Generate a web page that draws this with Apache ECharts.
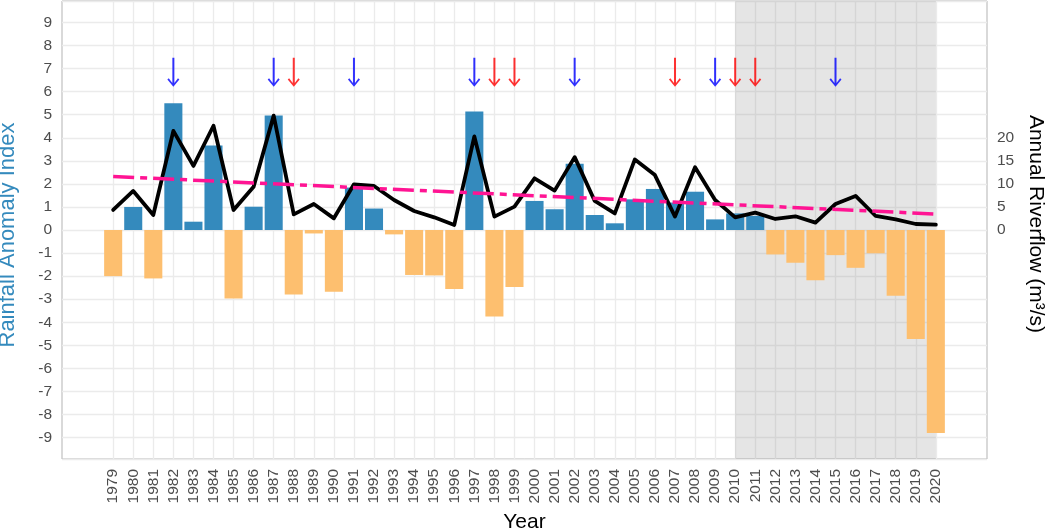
<!DOCTYPE html>
<html><head><meta charset="utf-8">
<script src="https://cdn.jsdelivr.net/npm/echarts@6/dist/echarts.min.js"></script>
<style>html,body{margin:0;padding:0;background:#fff}#c{width:1052px;height:529px}</style>
</head><body><div id="c"></div>
<script>
const years = [1979,1980,1981,1982,1983,1984,1985,1986,1987,1988,1989,1990,1991,1992,1993,1994,1995,1996,1997,1998,1999,2000,2001,2002,2003,2004,2005,2006,2007,2008,2009,2010,2011,2012,2013,2014,2015,2016,2017,2018,2019,2020];
const rainfallIndex = [-2.0,1.0,-2.1,5.5,0.36,3.66,-2.97,1.01,4.96,-2.8,-0.15,-2.68,1.84,0.93,-0.19,-1.95,-1.97,-2.56,5.14,-3.75,-2.47,1.26,0.9,2.87,0.65,0.29,1.33,1.78,1.19,1.66,0.46,0.72,0.61,-1.06,-1.42,-2.18,-1.09,-1.64,-1.01,-2.85,-4.73,-8.8];
const riverflow = [4.34,8.47,3.26,21.5,13.9,22.6,4.34,9.4,24.8,3.4,5.64,2.53,9.9,9.55,6.5,4.12,2.75,1.1,20.3,2.9,5.07,11.2,8.54,15.8,6.3,3.6,15.3,11.9,2.9,13.6,6.5,2.75,3.76,2.39,2.97,1.6,5.64,7.38,3.04,2.3,1.3,1.16];
const trendYears = [1979, 2020];
const trendFlow = [11.6, 3.47];
const blueArrowYears = [1982,1987,1991,1997,2002,2009,2015];
const redArrowYears = [1988,1998,1999,2007,2010,2011];
const shadedPeriod = [2010, 2020];
const leftTickLabels = [-9,-8,-7,-6,-5,-4,-3,-2,-1,0,1,2,3,4,5,6,7,8,9];
const rightTickLabels = [0,5,10,15,20];

const FONT = '"Liberation Sans", Arial, Helvetica, sans-serif';
const LABEL_COLOR = '#4D4D4D';
const ARROW_LEVEL = 6.84;
const ARROW_PATH = 'path://M5 0 L7 0 L7 25 L10.6 20.4 L12 21.6 L6 28.8 L0 21.6 L1.4 20.4 L5 25 Z';

function pick(list) {
  return function (v) {
    const r = Math.round(v);
    return (Math.abs(v - r) < 1e-6 && list.indexOf(r) >= 0) ? String(r) : '';
  };
}

const chart = echarts.init(document.getElementById('c'), null, {renderer: 'canvas'});
chart.setOption({
  animation: false,
  backgroundColor: '#fff',
  textStyle: {fontFamily: FONT},
  grid: {left: 62, right: 65, top: 1, bottom: 70, show: true, borderColor: '#B3B3B3', borderWidth: 1, backgroundColor: '#fff', containLabel: false, outerBoundsMode: 'none'},
  xAxis: {
    type: 'value', min: 1976.45, max: 2022.55, splitNumber: 46,
    axisLine: {show: false}, axisTick: {show: false}, splitLine: {show: false},
    axisLabel: {rotate: 90, margin: 10, fontSize: 15.5, color: LABEL_COLOR, fontFamily: FONT, formatter: pick(years), showMinLabel: true, showMaxLabel: true},
    name: 'Year', nameLocation: 'middle', nameGap: 47,
    nameTextStyle: {fontSize: 21, color: '#000', fontFamily: FONT}
  },
  yAxis: [{
    type: 'value', min: -9.93, max: 9.93, splitNumber: 20,
    axisLine: {show: false}, axisTick: {show: false},
    splitLine: {show: true, lineStyle: {color: '#EBEBEB', width: 1.3}},
    axisLabel: {margin: 10, fontSize: 15.5, color: LABEL_COLOR, fontFamily: FONT, formatter: pick(leftTickLabels)},
    name: 'Rainfall Anomaly Index', nameLocation: 'middle', nameRotate: 90, nameGap: 43,
    nameTextStyle: {fontSize: 22, color: '#348ABD', fontFamily: FONT, padding: [0, 10, 0, 0]}
  }, {
    type: 'value', min: -49.65, max: 49.65, splitNumber: 20, position: 'right',
    axisLine: {show: false}, axisTick: {show: false}, splitLine: {show: false},
    axisLabel: {margin: 10, fontSize: 15.5, color: LABEL_COLOR, fontFamily: FONT, formatter: pick(rightTickLabels)},
    name: 'Annual Riverflow (m³/s)', nameLocation: 'middle', nameRotate: -90, nameGap: 36,
    nameTextStyle: {fontSize: 21, color: '#000', fontFamily: FONT, padding: [0, 12, 0, 0]}
  }],
  series: [{
    name: 'vgrid', type: 'line', z: 0, silent: true, data: [[years[0], 0]],
    symbol: 'none', lineStyle: {opacity: 0},
    markLine: {
      z: 0, silent: true, symbol: ['none', 'none'], label: {show: false},
      lineStyle: {color: '#EBEBEB', width: 1.3, type: 'solid'},
      emphasis: {disabled: true},
      data: years.map(function (y) { return {xAxis: y}; })
    }
  }, {
    name: 'shade', type: 'line', z: 1, silent: true, data: [[shadedPeriod[0], 0]],
    symbol: 'none', lineStyle: {opacity: 0},
    markArea: {
      z: 1, silent: true, itemStyle: {color: 'rgba(127,127,127,0.2)'},
      data: [[{xAxis: shadedPeriod[0]}, {xAxis: shadedPeriod[1]}]]
    }
  }, {
    name: 'Rainfall Anomaly Index', type: 'bar', z: 2, barWidth: '90%',
    data: years.map(function (y, i) { return [y, rainfallIndex[i]]; }),
    itemStyle: {color: function (p) { return p.value[1] >= 0 ? '#348ABD' : '#FDBF6F'; }}
  }, {
    name: 'Annual Riverflow', type: 'line', z: 3, yAxisIndex: 1, symbol: 'none',
    data: years.map(function (y, i) { return [y, riverflow[i]]; }),
    lineStyle: {color: '#000', width: 3.8, cap: 'round', join: 'round'}
  }, {
    name: 'Trend', type: 'line', z: 4, yAxisIndex: 1, symbol: 'none',
    data: trendYears.map(function (y, i) { return [y, trendFlow[i]]; }),
    lineStyle: {color: '#FF1493', width: 3.5, type: [21, 6, 7, 6]}
  }, {
    name: 'blue arrows', type: 'scatter', z: 5, symbol: ARROW_PATH, symbolSize: [12, 29],
    data: blueArrowYears.map(function (y) { return [y, ARROW_LEVEL]; }),
    itemStyle: {color: '#0000FF'}
  }, {
    name: 'red arrows', type: 'scatter', z: 5, symbol: ARROW_PATH, symbolSize: [12, 29],
    data: redArrowYears.map(function (y) { return [y, ARROW_LEVEL]; }),
    itemStyle: {color: '#FF0000'}
  }]
});
</script></body></html>
